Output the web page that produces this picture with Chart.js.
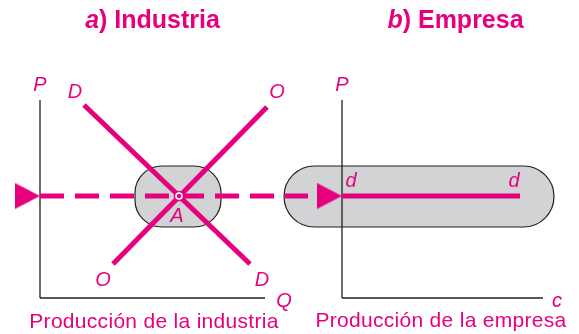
<!DOCTYPE html>
<html>
<head>
<meta charset="utf-8">
<script src="https://cdn.jsdelivr.net/npm/chart.js@4.4.1/dist/chart.umd.min.js"></script>
<style>
    html, body { margin: 0; padding: 0; background: #ffffff; }
</style>
</head>
<body>
<canvas id="diagram" width="579" height="334"></canvas>
<script>
// a) Industria  -> x = quantity Q, y = price P
var industryAxisP = [{x: 0, y: 0}, {x: 0, y: 9.9}];
var industryAxisQ = [{x: 0, y: 0}, {x: 11.25, y: 0}];
var industryDemand = [{x: 2.2, y: 9.65}, {x: 10.5, y: 1.7}];    // D
var industrySupply = [{x: 3.65, y: 1.7}, {x: 11.35, y: 9.55}];  // O
var equilibrium = [{x: 6.95, y: 5.1}];                          // A
var marketPrice = 5.1;
var priceLineQ = [0, 13.4];          // dashed line, runs on into the firm panel
var industryZoneQ = [4.75, 9.05];
var zoneP = [3.55, 6.6];

// b) Empresa  -> x = firm output c, y = price P
var firmAxisP = [{x: 0, y: 0}, {x: 0, y: 9.9}];
var firmAxisC = [{x: 0, y: 0}, {x: 10.05, y: 0}];
var firmDemandC = [0, 8.9];          // d ... d, flat at the market price
var firmZoneC = [-2.9, 10.6];

// text labels [text, x, y]
var industryLabels = [['P', 0, 10.35], ['D', 1.75, 10.0], ['O', 11.85, 10.0], ['O', 3.15, 0.6],
                      ['D', 11.1, 0.6], ['A', 6.85, 3.8], ['Q', 12.2, -0.45]];
var firmLabels = [['P', 0, 10.35], ['d', 0.45, 5.55], ['d', 8.6, 5.55], ['c', 10.75, -0.45]];
var captions = [['Producción de la industria', 'x', 5.7, -1.5], ['Producción de la empresa', 'x2', 4.95, -1.45]];
var titles = [['a', ') Industria', 'x', 5.625, 13.5], ['b', ') Empresa', 'x2', 5.675, 13.5]];

var pink = '#e6007e';
var ink = '#231f20';
var grey = '#d1d3d4';
var font = '"Liberation Sans", Arial, sans-serif';

// arrow head whose tip sits at the centre of the image
function arrowHead() {
    var c = document.createElement('canvas');
    c.width = 52;
    c.height = 27;
    var g = c.getContext('2d');
    g.fillStyle = pink;
    g.beginPath();
    g.moveTo(26, 13.5);
    g.lineTo(1, 0.5);
    g.lineTo(1, 26.5);
    g.closePath();
    g.fill();
    return c;
}
var arrow = arrowHead();

function drawZone(ctx, xs, ys, xr, yr, r) {
    var left = xs.getPixelForValue(xr[0]);
    var right = xs.getPixelForValue(xr[1]);
    var top = ys.getPixelForValue(yr[1]);
    var bottom = ys.getPixelForValue(yr[0]);
    if (r === null) r = (bottom - top) / 2;
    ctx.save();
    ctx.beginPath();
    ctx.roundRect(left, top, right - left, bottom - top, r);
    ctx.fillStyle = grey;
    ctx.fill();
    ctx.lineWidth = 1.2;
    ctx.strokeStyle = ink;
    ctx.stroke();
    ctx.restore();
}

var zonePlugin = {
    id: 'zones',
    beforeDatasetsDraw: function (chart) {
        var s = chart.scales;
        drawZone(chart.ctx, s.x, s.y, industryZoneQ, zoneP, 27);
        drawZone(chart.ctx, s.x2, s.y, firmZoneC, zoneP, null);
    }
};

var textPlugin = {
    id: 'texts',
    afterDatasetsDraw: function (chart) {
        var ctx = chart.ctx, s = chart.scales;
        ctx.save();
        ctx.fillStyle = pink;
        ctx.textBaseline = 'alphabetic';
        ctx.textAlign = 'center';
        ctx.font = 'italic 20px ' + font;
        industryLabels.forEach(function (l) {
            ctx.fillText(l[0], s.x.getPixelForValue(l[1]), s.y.getPixelForValue(l[2]));
        });
        firmLabels.forEach(function (l) {
            ctx.fillText(l[0], s.x2.getPixelForValue(l[1]), s.y.getPixelForValue(l[2]));
        });

        ctx.font = '21px ' + font;
        ctx.letterSpacing = '0.3px';
        captions.forEach(function (c) {
            ctx.fillText(c[0], s[c[1]].getPixelForValue(c[2]), s.y.getPixelForValue(c[3]));
        });
        ctx.letterSpacing = '0px';

        ctx.textAlign = 'left';
        titles.forEach(function (t) {
            ctx.font = 'italic bold 25px ' + font;
            var w1 = ctx.measureText(t[0]).width;
            ctx.font = 'bold 25px ' + font;
            var w2 = ctx.measureText(t[1]).width;
            var x0 = s[t[2]].getPixelForValue(t[3]) - (w1 + w2) / 2;
            var yb = s.y.getPixelForValue(t[4]);
            ctx.font = 'italic bold 25px ' + font;
            ctx.fillText(t[0], x0, yb);
            ctx.font = 'bold 25px ' + font;
            ctx.fillText(t[1], x0 + w1, yb);
        });
        ctx.restore();
    }
};

function line(data, xAxis, color, width, order, dash) {
    return {
        data: data,
        xAxisID: xAxis,
        showLine: true,
        borderColor: color,
        borderWidth: width,
        borderDash: dash || [],
        borderCapStyle: 'butt',
        pointRadius: 0,
        order: order,
        clip: false
    };
}

var ctx = document.getElementById('diagram').getContext('2d');
var diagram = new Chart(ctx, {
    type: 'scatter',
    data: {
        datasets: [
            line(industryAxisP, 'x', ink, 1.3, 9),
            line(industryAxisQ, 'x', ink, 1.3, 9),
            line(firmAxisP, 'x2', ink, 1.3, 9),
            line(firmAxisC, 'x2', ink, 1.3, 9),
            line(industryDemand, 'x', pink, 5, 6),
            line(industrySupply, 'x', pink, 5, 6),
            line([{x: firmDemandC[0], y: marketPrice}, {x: firmDemandC[1], y: marketPrice}], 'x2', pink, 5, 6),
            line([{x: priceLineQ[0], y: marketPrice}, {x: priceLineQ[1], y: marketPrice}], 'x', pink, 5, 5, [24, 11]),
            {   // arrow heads on both price axes
                data: [{x: 0, y: marketPrice}],
                xAxisID: 'x',
                pointStyle: arrow,
                pointRadius: 5,
                order: 4,
                clip: false
            },
            {
                data: [{x: 0, y: marketPrice}],
                xAxisID: 'x2',
                pointStyle: arrow,
                pointRadius: 5,
                order: 4,
                clip: false
            },
            {   // point A
                data: equilibrium,
                xAxisID: 'x',
                pointRadius: 4.6,
                backgroundColor: '#ffffff',
                borderColor: pink,
                borderWidth: 1.5,
                order: 2
            },
            {
                data: equilibrium,
                xAxisID: 'x',
                pointRadius: 2.2,
                backgroundColor: pink,
                borderWidth: 0,
                order: 1
            }
        ]
    },
    options: {
        responsive: false,
        animation: false,
        devicePixelRatio: 1,
        layout: { padding: 0, autoPadding: false },
        scales: {
            x: { type: 'linear', min: -2, max: 26.95, display: false },
            x2: { type: 'linear', min: -17.1, max: 11.85, display: false },
            y: { type: 'linear', min: -1.8, max: 14.9, display: false }
        },
        plugins: {
            legend: { display: false },
            tooltip: { enabled: false }
        }
    },
    plugins: [zonePlugin, textPlugin]
});
</script>
</body>
</html>
